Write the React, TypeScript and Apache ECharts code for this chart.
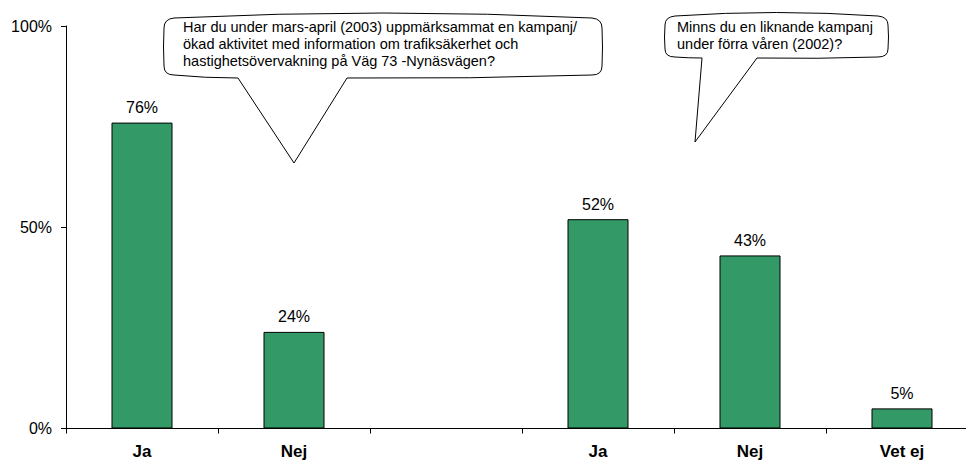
import React, { useEffect, useRef } from "react";
import * as echarts from "echarts";

const categories = ["Ja", "Nej", "", "Ja", "Nej", "Vet ej"];
const values: (number | string)[] = [76, 24, "-", 52, 43, 5];
const yTicks = { min: 0, max: 100, interval: 50 };
const question1 = [
  "Har du under mars-april (2003) uppmärksammat en kampanj/",
  "ökad aktivitet med information om trafiksäkerhet och",
  "hastighetsövervakning på Väg 73 -Nynäsvägen?",
];
const question2 = ["Minns du en liknande kampanj", "under förra våren (2002)?"];

const FONT = "'Liberation Sans', Arial, sans-serif";

const bubble1 =
  "M 174 18 Q 383 8 592 18 Q 602 19 602 28 Q 603 47 602 66 Q 602 75 592 75 " +
  "Q 470 79 347 78 L 294 163 L 238 78 Q 205 78 174 75 Q 164 75 164 66 " +
  "Q 163 47 164 28 Q 164 19 174 18 Z";
const bubble2 =
  "M 675 16 Q 776 9 878 16 Q 888 17 888 25 Q 889 37 888 49 Q 888 57 878 57 " +
  "Q 818 59 757 58 L 695 142 L 702 58 Q 688 58 675 57 Q 665 57 665 49 " +
  "Q 664 37 665 25 Q 665 17 675 16 Z";

export default function App() {
  const ref = useRef<HTMLDivElement>(null);
  useEffect(() => {
    if (!ref.current) return;
    echarts.graphic.registerShape("bubbleA", echarts.graphic.extendPath(bubble1, {}) as any);
    echarts.graphic.registerShape("bubbleB", echarts.graphic.extendPath(bubble2, {}) as any);
    const chart = echarts.init(ref.current, undefined, { renderer: "svg" });
    chart.setOption({
      animation: false,
      backgroundColor: "#fff",
      grid: { left: 66, right: 0, top: 26, bottom: 34.5, containLabel: false },
      xAxis: {
        type: "category",
        data: categories,
        axisLine: { lineStyle: { color: "#000", width: 1 } },
        axisTick: { show: true, length: 5, lineStyle: { color: "#000" } },
        axisLabel: {
          color: "#000",
          fontFamily: FONT,
          fontSize: 17,
          fontWeight: "bold",
          margin: 14,
          interval: 0,
        },
      },
      yAxis: {
        type: "value",
        min: yTicks.min,
        max: yTicks.max,
        interval: yTicks.interval,
        splitLine: { show: false },
        axisLine: { show: true, lineStyle: { color: "#000", width: 1 } },
        axisTick: { show: true, length: 5, lineStyle: { color: "#000" } },
        axisLabel: {
          color: "#000",
          fontFamily: FONT,
          fontSize: 16,
          margin: 14,
          formatter: "{value}%",
        },
      },
      series: [
        {
          type: "bar",
          data: values,
          barWidth: 61,
          itemStyle: { color: "#339966", borderColor: "#000", borderWidth: 1 },
          label: {
            show: true,
            position: "top",
            distance: 7,
            color: "#000",
            fontFamily: FONT,
            fontSize: 16,
            formatter: "{c}%",
          },
        },
      ],
      graphic: [
        {
          type: "bubbleA",
          x: 0,
          y: 0,
          z: 10,
          style: { fill: "#fff", stroke: "#000", lineWidth: 1 },
        },
        {
          type: "bubbleB",
          x: 0,
          y: 0,
          z: 10,
          style: { fill: "#fff", stroke: "#000", lineWidth: 1 },
        },
        {
          type: "text",
          x: 183,
          y: 18,
          z: 11,
          style: {
            text: question1.join("\n"),
            font: `14.5px ${FONT}`,
            fill: "#000",
            lineHeight: 17,
            textVerticalAlign: "top",
          },
        },
        {
          type: "text",
          x: 677,
          y: 18,
          z: 11,
          style: {
            text: question2.join("\n"),
            font: `14.5px ${FONT}`,
            fill: "#000",
            lineHeight: 17,
            textVerticalAlign: "top",
          },
        },
      ],
    });
    return () => chart.dispose();
  }, []);
  return (
    <div
      style={{
        position: "fixed",
        left: 0,
        top: 0,
        width: 966,
        height: 463,
        overflow: "hidden",
        background: "#fff",
      }}
    >
      <div ref={ref} style={{ width: 978, height: 463 }} />
    </div>
  );
}
